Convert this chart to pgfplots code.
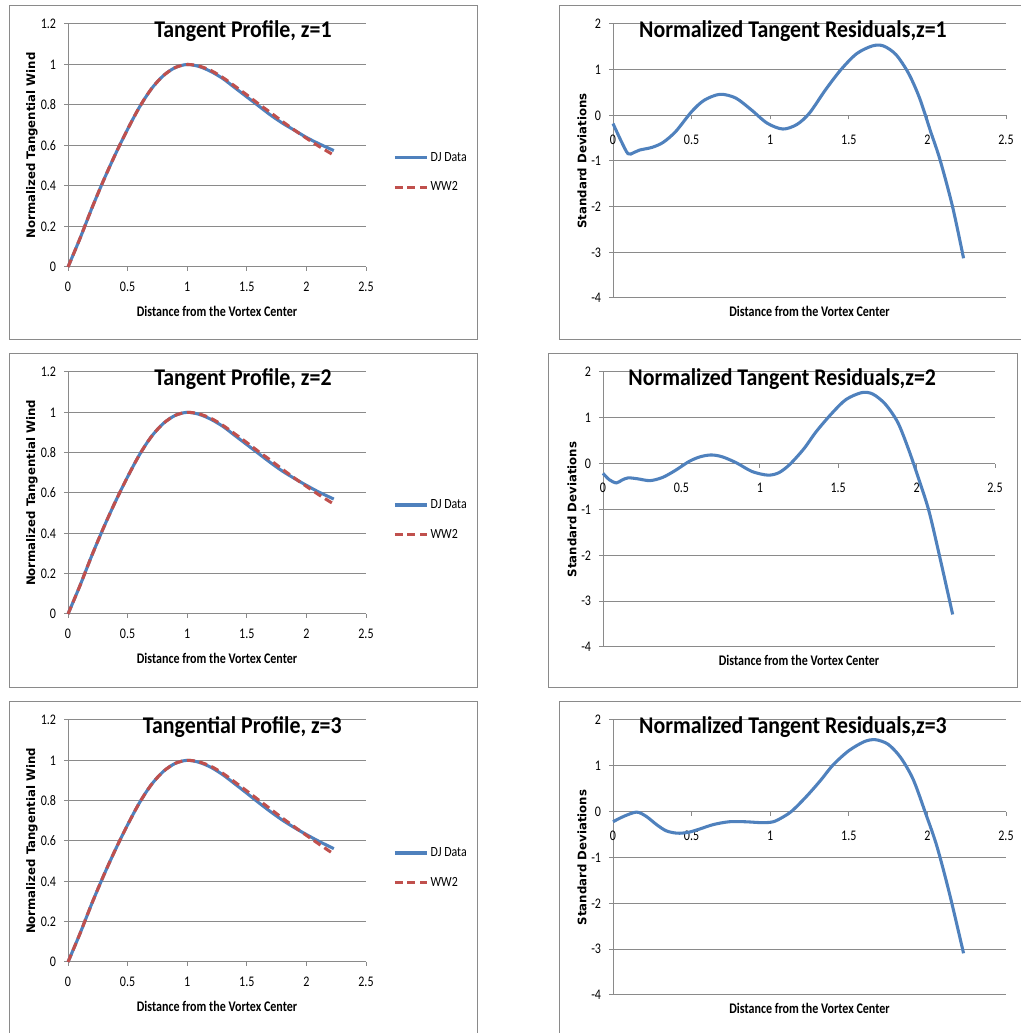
\documentclass[border=0pt]{standalone}
\usepackage{pgfplots}
\pgfplotsset{compat=1.18}
\usepackage{fontspec}
\setmainfont{Carlito}
\newfontfamily\dvb{DejaVu Sans}
\definecolor{xlblue}{HTML}{4F81BD}
\definecolor{xlred}{HTML}{C0504D}
\definecolor{xlgrid}{HTML}{8A8A8A}

\pgfplotstableread{
x y
0 0
0.1 0.14
0.2 0.29
0.3 0.43
0.4 0.56
0.5 0.68
0.6 0.79
0.7 0.88
0.8 0.945
0.9 0.985
1.0 1.0
1.1 0.99
1.2 0.965
1.3 0.93
1.4 0.885
1.5 0.84
1.6 0.795
1.7 0.75
1.8 0.71
1.9 0.675
2.0 0.64
2.1 0.61
2.23 0.575
}\djA
\pgfplotstableread{
x y
0 0
0.1 0.14
0.2 0.29
0.3 0.43
0.4 0.56
0.5 0.68
0.6 0.79
0.7 0.88
0.8 0.945
0.9 0.985
1.0 1.0
1.1 0.992
1.2 0.97
1.3 0.935
1.4 0.893
1.5 0.85
1.6 0.805
1.7 0.762
1.8 0.718
1.9 0.676
2.0 0.636
2.1 0.598
2.23 0.552
}\wwA
\pgfplotstableread{
x y
0 0
0.1 0.14
0.2 0.29
0.3 0.43
0.4 0.56
0.5 0.68
0.6 0.79
0.7 0.88
0.8 0.945
0.9 0.985
1.0 1.0
1.1 0.99
1.2 0.965
1.3 0.93
1.4 0.885
1.5 0.84
1.6 0.795
1.7 0.75
1.8 0.708
1.9 0.672
2.0 0.638
2.1 0.606
2.23 0.57
}\djB
\pgfplotstableread{
x y
0 0
0.1 0.14
0.2 0.29
0.3 0.43
0.4 0.56
0.5 0.68
0.6 0.79
0.7 0.88
0.8 0.945
0.9 0.985
1.0 1.0
1.1 0.992
1.2 0.97
1.3 0.935
1.4 0.893
1.5 0.85
1.6 0.805
1.7 0.762
1.8 0.717
1.9 0.674
2.0 0.633
2.1 0.593
2.23 0.545
}\wwB
\pgfplotstableread{
x y
0 0
0.1 0.14
0.2 0.29
0.3 0.43
0.4 0.56
0.5 0.68
0.6 0.79
0.7 0.88
0.8 0.945
0.9 0.985
1.0 1.0
1.1 0.99
1.2 0.965
1.3 0.928
1.4 0.883
1.5 0.837
1.6 0.79
1.7 0.745
1.8 0.703
1.9 0.666
2.0 0.632
2.1 0.6
2.23 0.562
}\djC
\pgfplotstableread{
x y
0 0
0.1 0.14
0.2 0.29
0.3 0.43
0.4 0.56
0.5 0.68
0.6 0.79
0.7 0.88
0.8 0.945
0.9 0.985
1.0 1.0
1.1 0.992
1.2 0.97
1.3 0.935
1.4 0.892
1.5 0.848
1.6 0.803
1.7 0.758
1.8 0.713
1.9 0.67
2.0 0.628
2.1 0.587
2.23 0.535
}\wwC

\pgfplotstableread{
x y
0 -0.18
0.05 -0.55
0.095 -0.84
0.13 -0.82
0.17 -0.76
0.25 -0.70
0.32 -0.59
0.40 -0.35
0.50 0.08
0.58 0.33
0.68 0.46
0.78 0.38
0.88 0.12
0.98 -0.17
1.08 -0.30
1.17 -0.20
1.25 0.05
1.35 0.55
1.45 1.0
1.55 1.35
1.65 1.52
1.72 1.52
1.80 1.33
1.88 0.92
1.95 0.38
2.02 -0.35
2.08 -0.97
2.16 -2.0
2.23 -3.13
}\resA
\pgfplotstableread{
x y
0 -0.21
0.04 -0.35
0.085 -0.42
0.12 -0.36
0.16 -0.31
0.22 -0.33
0.30 -0.37
0.38 -0.30
0.46 -0.15
0.55 0.05
0.62 0.15
0.69 0.19
0.76 0.15
0.85 0.02
0.95 -0.17
1.05 -0.25
1.12 -0.20
1.19 -0.02
1.28 0.32
1.36 0.70
1.46 1.10
1.55 1.40
1.65 1.55
1.72 1.52
1.80 1.30
1.88 0.90
1.95 0.30
2.02 -0.40
2.08 -1.05
2.15 -2.07
2.23 -3.29
}\resB
\pgfplotstableread{
x y
0 -0.22
0.07 -0.10
0.15 -0.01
0.21 -0.10
0.28 -0.29
0.34 -0.42
0.41 -0.47
0.48 -0.45
0.55 -0.38
0.64 -0.28
0.74 -0.22
0.84 -0.22
0.95 -0.24
1.02 -0.22
1.08 -0.12
1.14 0.02
1.23 0.33
1.32 0.68
1.40 1.02
1.50 1.33
1.60 1.53
1.67 1.57
1.75 1.47
1.83 1.18
1.91 0.70
1.99 -0.05
2.06 -0.75
2.14 -1.78
2.23 -3.09
}\resC

\pgfplotsset{
  common/.style={
    scale only axis,
    anchor=south west,
    xmin=0, xmax=2.5,
    xtick={0,0.5,1,1.5,2,2.5},
    xticklabels={0,0.5,1,1.5,2,2.5},
    axis line style={xlgrid, line width=0.75pt},
    tick style={xlgrid, line width=0.75pt},
    major tick length=3pt,
    tick align=outside,
    ymajorgrids,
    major grid style={xlgrid, line width=0.75pt},
    tick label style={font=\fontsize{11}{13}\selectfont, xscale=0.82},
    yticklabel style={xshift=-3.75pt},
    xlabel={Distance from the Vortex Center},
    xlabel style={font=\fontsize{11}{13}\selectfont\bfseries, xscale=0.82, anchor=center},
    ylabel style={font=\dvb\fontsize{8.8}{10}\selectfont\bfseries, anchor=center, rotate=0},
    title style={font=\fontsize{18}{20}\selectfont\bfseries, xscale=0.91, anchor=base, yshift=0pt},
    hide obscured x ticks=false,
    hide obscured y ticks=false,
    clip=false,
  },
  tan/.style={
    common,
    width=223.5pt,
    ymin=0, ymax=1.2,
    ytick={0,0.2,0.4,0.6,0.8,1,1.2},
    yticklabels={0,0.2,0.4,0.6,0.8,1,1.2},
    axis x line*=bottom, axis y line*=left,
    xticklabel style={yshift=-5pt},
    ylabel={Normalized Tangential Wind},
    ylabel style={at={(axis description cs:-0.1208,0.5)}},
    xlabel style={at={(axis description cs:0.5,0)}, yshift=-33pt},
    legend style={at={(axis description cs:1.0906,0.389)}, anchor=west, draw=none, fill=none,
      inner sep=0pt, row sep=10pt, font=\fontsize{10.5}{12}\selectfont,
      nodes={xscale=0.85}},
    legend cell align=left,
    legend image code/.code={\draw[#1] (0pt,0pt) -- (24pt,0pt);},
  },
  res/.style={
    common,
    ymin=-4, ymax=2,
    ytick={-4,-3,-2,-1,0,1,2},
    yticklabels={-4,-3,-2,-1,0,1,2},
    axis x line*=middle, axis y line*=left,
    xticklabel style={yshift=-8pt},
    ylabel={Standard Deviations},
    ylabel style={at={(axis description cs:-0.0789,0.5)}},
    xlabel style={at={(axis description cs:0.5,0)}, yshift=-9.75pt},
  },
  dj/.style={xlblue, line width=2.3pt, smooth, tension=0.5},
  ww/.style={xlred, line width=2.3pt, dash pattern=on 6pt off 3.5pt, smooth, tension=0.5},
}

\begin{document}
\begin{tikzpicture}
\useasboundingbox (0,0) rectangle (765.75pt,774.75pt);
\fill[white] (0,0) rectangle (765.75pt,774.75pt);
% chart borders
\draw[xlgrid, line width=0.75pt] (6.75pt,770.25pt) rectangle (357.75pt,519.75pt);
\draw[xlgrid, line width=0.75pt] (6.75pt,509.25pt) rectangle (357.75pt,258.75pt);
\draw[xlgrid, line width=0.75pt] (6.75pt,248.25pt) rectangle (357.75pt,-6pt);
\draw[xlgrid, line width=0.75pt] (419.25pt,770.25pt) rectangle (770pt,519.75pt);
\draw[xlgrid, line width=0.75pt] (411pt,509.25pt) rectangle (762.75pt,258.75pt);
\draw[xlgrid, line width=0.75pt] (419.25pt,248.25pt) rectangle (770pt,-6pt);

% left column
\begin{axis}[tan, at={(51pt,574.5pt)}, height=182.25pt,
  title={Tangent Profile, z=1}, title style={at={(axis description cs:0.587,0.913)}}]
\addplot[dj] table {\djA};
\addplot[ww] table {\wwA};
\legend{DJ Data, WW2}
\end{axis}

\begin{axis}[tan, at={(51pt,314.25pt)}, height=181.5pt,
  title={Tangent Profile, z=2}, title style={at={(axis description cs:0.587,0.913)}}]
\addplot[dj] table {\djB};
\addplot[ww] table {\wwB};
\legend{DJ Data, WW2}
\end{axis}

\begin{axis}[tan, at={(51pt,53.25pt)}, height=181.5pt,
  title={Tangential Profile, z=3}, title style={at={(axis description cs:0.585,0.912)}}]
\addplot[dj] table {\djC};
\addplot[ww] table {\wwC};
\legend{DJ Data, WW2}
\end{axis}

% right column
\begin{axis}[res, at={(459.75pt,551.25pt)}, width=294.75pt, height=205.5pt,
  title={Normalized Tangent Residuals,z=1}, title style={at={(axis description cs:0.458,0.921)}}]
\addplot[dj] table {\resA};
\end{axis}

\begin{axis}[res, at={(452.25pt,289.5pt)}, width=294pt, height=206.25pt,
  title={Normalized Tangent Residuals,z=2}, title style={at={(axis description cs:0.457,0.92)}}]
\addplot[dj] table {\resB};
\end{axis}

\begin{axis}[res, at={(459.75pt,28.5pt)}, width=294.75pt, height=206.25pt,
  title={Normalized Tangent Residuals,z=3}, title style={at={(axis description cs:0.458,0.921)}}]
\addplot[dj] table {\resC};
\end{axis}
\end{tikzpicture}
\end{document}
